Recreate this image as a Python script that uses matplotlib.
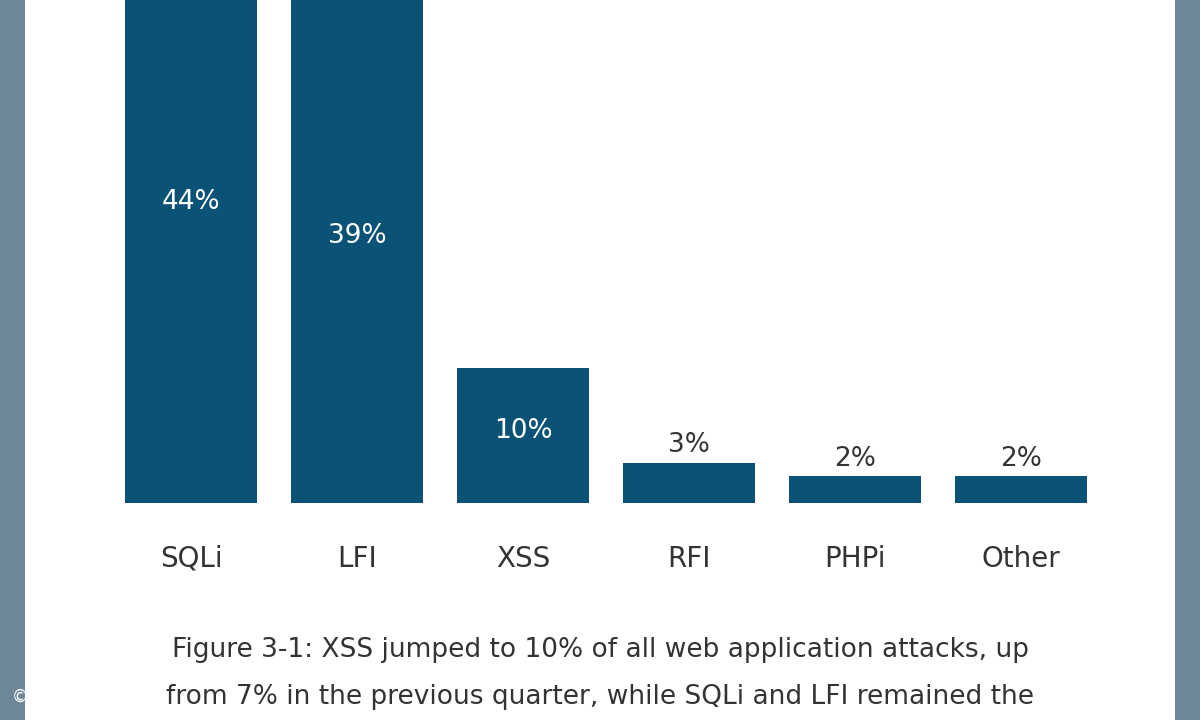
import matplotlib
matplotlib.use("Agg")
import matplotlib.pyplot as plt

categories = ["SQLi", "LFI", "XSS", "RFI", "PHPi", "Other"]
values = [44, 39, 10, 3, 2, 2]
labels = ["44%", "39%", "10%", "3%", "2%", "2%"]

fig = plt.figure(figsize=(12, 7.2), dpi=100, facecolor="#6e8798")
bg = fig.add_axes([25/1200, 0, 1150/1200, 1], zorder=-1)
bg.set_facecolor("white")
bg.set_xticks([]); bg.set_yticks([])
for s in bg.spines.values():
    s.set_visible(False)

ax = fig.add_axes([108/1200, 217/720, 996/1200, 503/720])
ax.set_facecolor("none")
bar_color = "#0b5277"
x = range(len(categories))
ax.bar(x, values, width=0.795, color=bar_color)
ax.set_xlim(-0.5, 5.5)
ax.set_ylim(0, 503/13.5)
for s in ax.spines.values():
    s.set_visible(False)
ax.set_yticks([])
ax.set_xticks(list(x))
ax.set_xticklabels(categories, fontsize=20, color="#333333")
ax.tick_params(axis="x", length=0, pad=30)
ymax = ax.get_ylim()[1]
for i, (v, lab) in enumerate(zip(values, labels)):
    if v >= 8:
        y = min(v / 2 + 0.3, ymax - 2.2)
        ax.text(i, y, lab, ha="center", va="center", color="white", fontsize=19)
    else:
        ax.text(i, v + 0.3, lab, ha="center", va="bottom", color="#333333", fontsize=19)

fig.text(0.5, 1 - 650/720, "Figure 3-1: XSS jumped to 10% of all web application attacks, up",
         ha="center", va="center", fontsize=19, color="#333333")
fig.text(0.5, 1 - 697/720, "from 7% in the previous quarter, while SQLi and LFI remained the",
         ha="center", va="center", fontsize=19, color="#333333")
fig.text(12/1200, 1 - 697/720, "© Akamai", ha="left", va="center", fontsize=12, color="white")
fig.savefig("out.png", dpi=100, facecolor=fig.get_facecolor())
